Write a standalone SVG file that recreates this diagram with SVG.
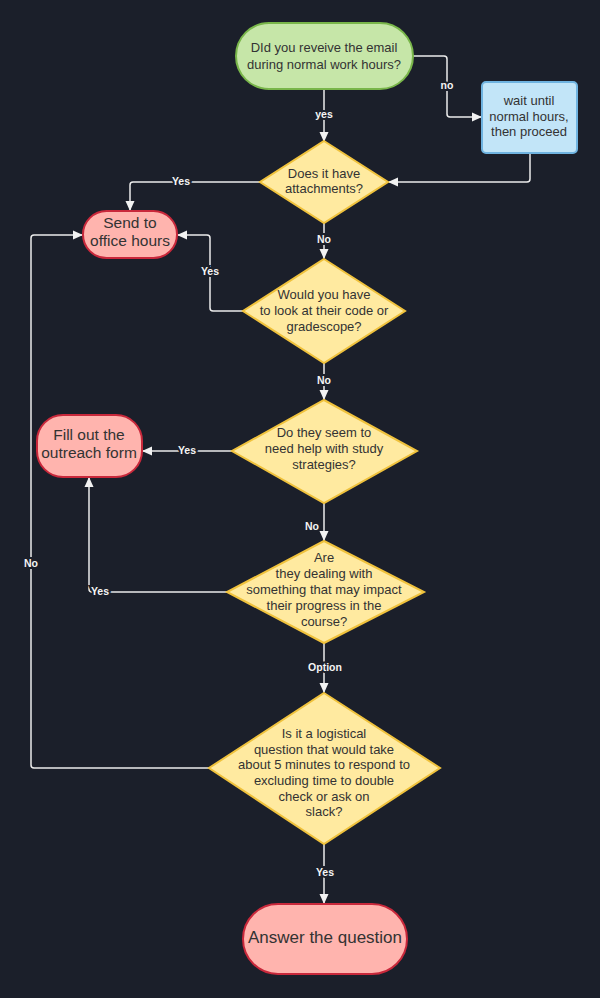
<svg xmlns="http://www.w3.org/2000/svg" width="600" height="998" viewBox="0 0 600 998">
<defs>
<marker id="ah" markerWidth="10" markerHeight="10" refX="9" refY="5" orient="auto" markerUnits="userSpaceOnUse">
<path d="M0,0.5 L10,5 L0,9.5 Z" fill="#f2f2f2"/>
</marker>
<style>
.bg{fill:#1b1f2a}
.t{font-family:"Liberation Sans",Arial,sans-serif;fill:#333;text-anchor:middle}
.q{font-size:13px}
.big{font-size:15.5px}
.dia{fill:#ffeaa0;stroke:#f0c23c;stroke-width:2}
.red{fill:#ffb4ae;stroke:#c9283b;stroke-width:2}
.c{fill:none;stroke:#ececec;stroke-width:1.5;stroke-linejoin:round;marker-end:url(#ah)}
.l{font-family:"Liberation Sans",Arial,sans-serif;font-size:10.5px;font-weight:bold;fill:#f4f4f4;text-anchor:middle;stroke:#1b1f2a;stroke-width:4;paint-order:stroke}
</style>
</defs>
<rect class="bg" x="0" y="0" width="600" height="998"/>
<g id="connectors">
<path class="c" d="M413,56 H444 Q447,56 447,59 V114 Q447,117 450,117 H481"/>
<path class="c" d="M324,89 V141"/>
<path class="c" d="M530,153 V179 Q530,182 527,182 H389"/>
<path class="c" d="M260,182 H133 Q130,182 130,185 V210"/>
<path class="c" d="M324,223 V258"/>
<path class="c" d="M243,311 H213 Q210,311 210,308 V238 Q210,235 207,235 H178"/>
<path class="c" d="M324,363 V399"/>
<path class="c" d="M232,451 H143"/>
<path class="c" d="M324,503 V540"/>
<path class="c" d="M227,592 H92 Q89,592 89,589 V478"/>
<path class="c" d="M324,643 V692"/>
<path class="c" d="M209,768 H34 Q31,768 31,765 V238 Q31,235 34,235 H82"/>
<path class="c" d="M324,844 V903"/>
<text class="l" x="447" y="89">no</text>
<text class="l" x="324" y="118">yes</text>
<text class="l" x="181" y="185">Yes</text>
<text class="l" x="324" y="243">No</text>
<text class="l" x="210" y="275">Yes</text>
<text class="l" x="324" y="384">No</text>
<text class="l" x="187" y="454">Yes</text>
<text class="l" x="312" y="530">No</text>
<text class="l" x="100" y="595">Yes</text>
<text class="l" x="325" y="671">Option</text>
<text class="l" x="31" y="567">No</text>
<text class="l" x="325" y="876">Yes</text>
</g>
<g id="start">
<rect x="236" y="23" width="177" height="66" rx="33" fill="#c6e6a8" stroke="#79b64a" stroke-width="2"/>
<text class="t q" x="324" y="52">DId you reveive the email</text>
<text class="t q" x="324" y="69">during normal work hours?</text>
</g>
<g id="wait">
<rect x="482" y="82" width="95" height="71" rx="4" fill="#c2e5f8" stroke="#6fb3e0" stroke-width="2"/>
<text class="t q" x="529" y="105">wait until</text>
<text class="t q" x="529" y="121">normal hours,</text>
<text class="t q" x="529" y="136">then proceed</text>
</g>
<g id="attachments">
<polygon class="dia" points="324,141 388,182 324,223 260,182"/>
<text class="t q" x="324" y="178">Does it have</text>
<text class="t q" x="324" y="193">attachments?</text>
</g>
<g id="office">
<rect class="red" x="83" y="211" width="94" height="47" rx="23.5"/>
<text class="t big" x="130" y="228">Send to</text>
<text class="t big" x="130" y="246">office hours</text>
</g>
<g id="code">
<polygon class="dia" points="324,259 405,311 324,363 243,311"/>
<text class="t q" x="324" y="299">Would you have</text>
<text class="t q" x="324" y="315">to look at their code or</text>
<text class="t q" x="324" y="331">gradescope?</text>
</g>
<g id="study">
<polygon class="dia" points="324,400 417,451 324,503 232,451"/>
<text class="t q" x="324" y="437">Do they seem to</text>
<text class="t q" x="324" y="453">need help with study</text>
<text class="t q" x="324" y="469">strategies?</text>
</g>
<g id="outreach">
<rect class="red" x="37" y="415" width="105" height="62" rx="26"/>
<text class="t big" x="89" y="440">Fill out the</text>
<text class="t big" x="89" y="458">outreach form</text>
</g>
<g id="dealing">
<polygon class="dia" points="324,541 424,592 324,643 227,592"/>
<text class="t q" x="324" y="562">Are</text>
<text class="t q" x="324" y="578">they dealing with</text>
<text class="t q" x="324" y="594">something that may impact</text>
<text class="t q" x="324" y="610">their progress in the</text>
<text class="t q" x="324" y="626">course?</text>
</g>
<g id="logistical">
<polygon class="dia" points="324,693 440,768 324,844 209,768"/>
<text class="t q" x="324" y="738">Is it a logistical</text>
<text class="t q" x="324" y="754">question that would take</text>
<text class="t q" x="324" y="769">about 5 minutes to respond to</text>
<text class="t q" x="324" y="785">excluding time to double</text>
<text class="t q" x="324" y="801">check or ask on</text>
<text class="t q" x="324" y="816">slack?</text>
</g>
<g id="answer">
<rect class="red" x="243" y="904" width="164" height="70" rx="35"/>
<text class="t" x="325" y="943" style="font-size:17px">Answer the question</text>
</g>
</svg>
